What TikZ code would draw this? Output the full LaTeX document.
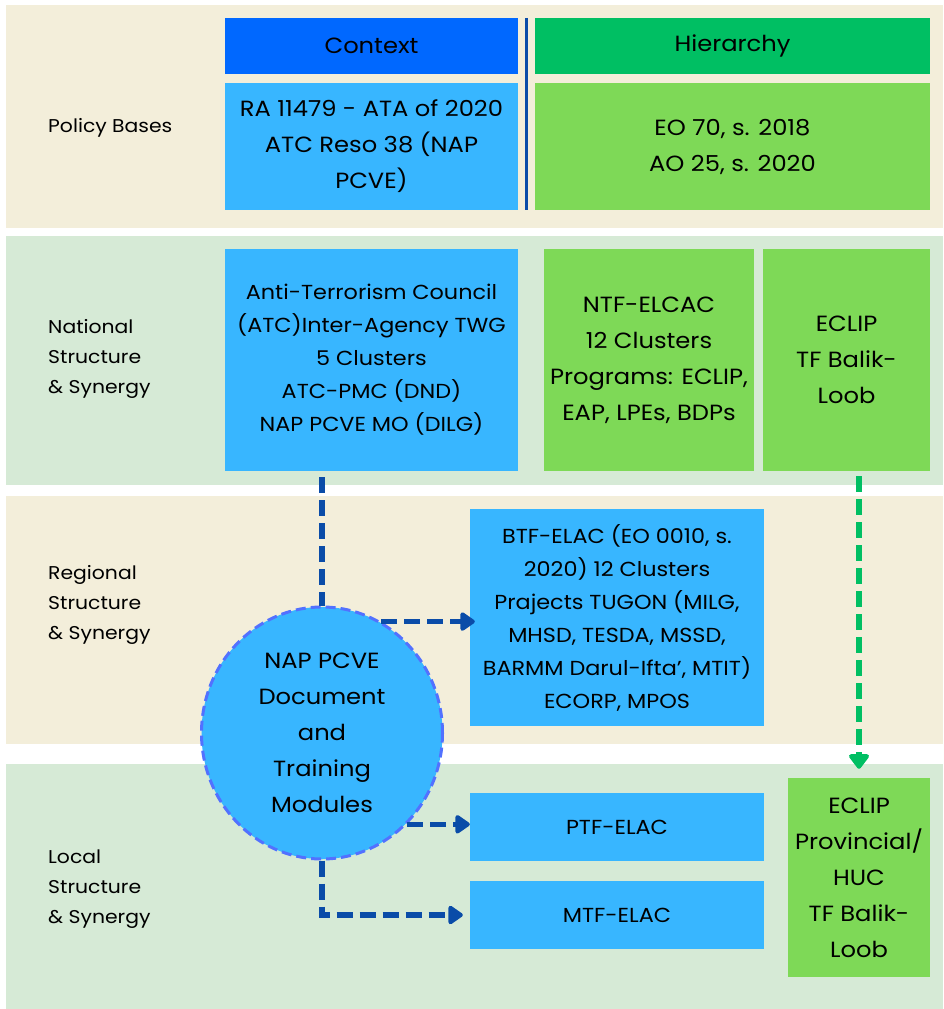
\documentclass[tikz,border=0pt]{standalone}
\usepackage{fontspec}
\setmainfont{Poppins}[FakeStretch=1.1]
\usetikzlibrary{shapes.geometric, arrows.meta, positioning, calc}
\definecolor{cream}{RGB}{243,238,218}
\definecolor{mint}{RGB}{214,234,214}
\definecolor{ctxblue}{RGB}{0,104,255}
\definecolor{skyblue}{RGB}{56,182,255}
\definecolor{hiergreen}{RGB}{0,191,99}
\definecolor{leafgreen}{RGB}{126,217,87}
\definecolor{navy}{RGB}{10,76,168}
\definecolor{rimblue}{RGB}{82,113,255}
\tikzset{
  box/.style={rectangle, inner sep=0pt, align=center,
              font=\fontsize{22}{36}\selectfont},
  smallbox/.style={box, font=\fontsize{20.3}{33}\selectfont},
  bandlabel/.style={anchor=west, inner sep=0pt, align=left,
                    font=\fontsize{18.5}{30}\selectfont},
  bluedash/.style={draw=navy, line width=5.5pt, dash pattern=on 16pt off 7pt},
  bluearrow/.style={bluedash, -{Triangle[length=16pt, width=21pt, round]}},
  greenarrow/.style={draw=hiergreen, line width=5.5pt, dash pattern=on 16pt off 7pt,
                     -{Triangle[length=16pt, width=23pt, round]}},
}

\begin{document}
\begin{tikzpicture}[x=1pt, y=-1pt]
  \useasboundingbox (0,0) rectangle (943,1009);
  % bands
  \fill[cream] (6,5) rectangle (943,228);
  \fill[mint] (6,236) rectangle (943,485);
  \fill[cream] (6,496) rectangle (943,744);
  \fill[mint] (6,764) rectangle (943,1009);

  \node[bandlabel] (policy) at (48,128) {Policy Bases};
  \node[bandlabel] (national) at (48,359) {National\\Structure\\\& Synergy};
  \node[bandlabel] (regional) at (48,605) {Regional\\Structure\\\& Synergy};
  \node[bandlabel] (local) at (48,889) {Local\\Structure\\\& Synergy};

  % policy bases
  \node[box, fill=ctxblue, minimum width=293pt, minimum height=56pt] (ctx) at (371.5,46) {Context};
  \node[box, fill=hiergreen, minimum width=395pt, minimum height=56pt] (hier) at (732.5,46) {Hierarchy};
  \node[box, fill=skyblue, minimum width=293pt, minimum height=127pt] (ctxbody) at (371.5,146.5)
    {RA 11479 - ATA of 2020\\ATC Reso 38 (NAP\\PCVE)};
  \node[box, fill=leafgreen, minimum width=395pt, minimum height=127pt] (hierbody) at (732.5,146.5)
    {EO 70, s. 2018\\AO 25, s. 2020};
  \draw[navy, line width=3pt] ($(ctx.north east)!0.5!(hier.north west)$)
    -- ($(ctxbody.south east)!0.5!(hierbody.south west)$);

  % national
  \node[smallbox, fill=skyblue, minimum width=293pt, minimum height=222pt] (atc) at (371.5,360)
    {Anti-Terrorism Council\\(ATC)Inter-Agency TWG\\5 Clusters\\ATC-PMC (DND)\\NAP PCVE MO (DILG)};
  \node[box, fill=leafgreen, minimum width=210pt, minimum height=222pt] (ntf) at (649,360)
    {NTF-ELCAC\\12 Clusters\\Programs: ECLIP,\\EAP, LPEs, BDPs};
  \node[box, fill=leafgreen, minimum width=167pt, minimum height=222pt] (eclip) at (846.5,360)
    {ECLIP\\TF Balik-\\Loob};

  % regional
  \node[smallbox, fill=skyblue, minimum width=294pt, minimum height=217pt] (btf) at (617,617.5)
    {BTF-ELAC (EO 0010, s.\\2020) 12 Clusters\\Prajects TUGON (MILG,\\MHSD, TESDA, MSSD,\\BARMM Darul-Ifta', MTIT)\\ECORP, MPOS};
  \node[box, ellipse, fill=skyblue, draw=rimblue, line width=3pt, dash pattern=on 10pt off 5pt,
        minimum width=241pt, minimum height=252pt] (nap) at (322,733)
    {NAP PCVE\\Document\\and\\Training\\Modules};

  % local
  \node[smallbox, fill=skyblue, minimum width=294pt, minimum height=68pt] (ptf) at (617,827) {PTF-ELAC};
  \node[smallbox, fill=skyblue, minimum width=294pt, minimum height=68pt] (mtf) at (617,915) {MTF-ELAC};
  \node[box, fill=leafgreen, minimum width=142pt, minimum height=199pt] (eclipprov) at (859,877.5)
    {ECLIP\\Provincial/\\HUC\\TF Balik-\\Loob};

  % connectors
  \draw[bluedash, shorten <=6pt] (atc.south -| nap.north) -- (nap.north);
  \draw[bluearrow, shorten >=-5pt] (nap.62) -- (nap.62 -| btf.west);
  \draw[bluearrow] (nap.-47.6) -- (nap.-47.6 -| ptf.west);
  \draw[bluearrow, shorten >=7pt] (nap.south) |- (mtf.west);
  \draw[greenarrow, shorten <=5pt, shorten >=9pt] (eclip.south -| eclipprov.north) -- (eclipprov.north);
\end{tikzpicture}
\end{document}
